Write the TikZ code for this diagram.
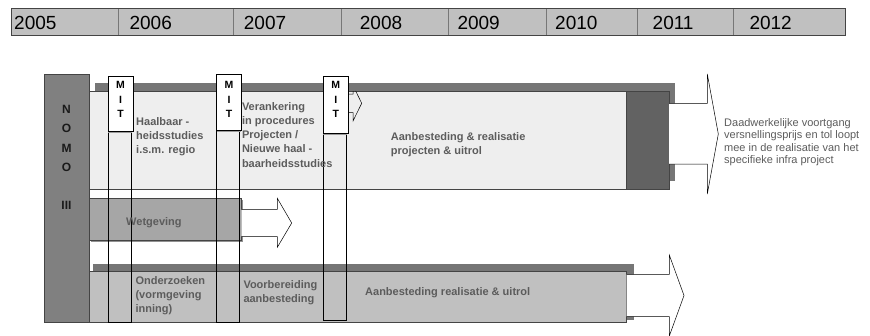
\documentclass[tikz,border=0pt]{standalone}
\usepackage{fontspec}
\setmainfont{Liberation Sans}
\definecolor{barfill}{HTML}{C0C0C0}
\definecolor{darkedge}{HTML}{444444}
\definecolor{sepgray}{HTML}{777777}
\definecolor{nomofill}{HTML}{808080}
\definecolor{nomotxt}{HTML}{1A1A1A}
\definecolor{shadowgray}{HTML}{767676}
\definecolor{rowlight}{HTML}{EEEEEE}
\definecolor{darkend}{HTML}{626262}
\definecolor{wetfill}{HTML}{A6A6A6}
\definecolor{mitline}{HTML}{9A9A9A}
\definecolor{txtgray}{HTML}{5C5C5C}
\tikzset{
  year/.style={anchor=base west, inner sep=0pt, font=\fontsize{19}{22}\selectfont},
  % multi-line labels are placed at the baseline of their last line
  lbl/.style={anchor=base west, inner sep=0pt, align=left, text=txtgray,
    font=\fontsize{11}{14.3}\selectfont\bfseries},
  note/.style={anchor=base west, inner sep=0pt, align=left, text=txtgray,
    font=\fontsize{11}{12.3}\selectfont},
  mittext/.style={anchor=base, inner sep=0pt, align=center,
    font=\fontsize{10.5}{14.5}\selectfont\bfseries},
  nomotext/.style={anchor=base, inner sep=0pt, align=center, text=nomotxt,
    font=\fontsize{12}{19.2}\selectfont\bfseries},
  boxline/.style={draw=darkedge, line width=0.6pt},
  blockarrow/.style={draw=black, fill=white, line width=0.5pt, line join=miter},
}
\begin{document}
\begin{tikzpicture}[x=1pt, y=-1pt]
\useasboundingbox (0,0) rectangle (870,335);

% time line
\draw[fill=barfill, draw=darkedge, line width=0.7pt] (11.7,8.3) rectangle (845,35);
\foreach \s in {118.3,233,341,448,546.6,637.5,733.3}
    \draw[sepgray, line width=0.8pt] (\s,8.8) -- (\s,34.5);
\foreach \yr/\x in {2005/14,2006/129.4,2007/243.7,2008/359.7,2009/457.3,2010/555,2011/652.5,2012/749.3}
    \node[year] (y\yr) at (\x,29.3) {\yr};

% NOMO column
\draw[boxline, fill=nomofill] (44,74) rectangle (89,322);
\node[nomotext] (nomo) at (66.5,209.6) {N\\O\\M\\O\\[19.2pt]III};

% row 1
\fill[shadowgray] (95,83) rectangle (675,181);
\draw[boxline, fill=rowlight] (89,91) rectangle (669,189.5);
\draw[boxline, fill=darkend] (626,91) rectangle (669,189.5);
\draw[blockarrow, fill=none] (348,94) -- (353,94) -- (353,91)
    (355.7,91) -- (361.7,103.3) -- (353,121) -- (353,112.7) -- (348,112.7);
\draw[blockarrow] (669,103.3) -- (707.3,103.3) -- (707.3,74) -- (718.3,134)
    -- (707.3,194) -- (707.3,164) -- (669,164);

% Wetgeving
\fill[shadowgray!80] (90.8,199.8) rectangle (242.8,241.5);
\draw[boxline, fill=wetfill] (89.3,198.3) rectangle (241.3,240);
\draw[blockarrow] (241.3,209.3) -- (277.3,209.3) -- (277.3,198.3) -- (291.7,223)
    -- (277.3,247.3) -- (277.3,236.7) -- (241.3,236.7);

% row 3
\fill[shadowgray] (93.3,264) rectangle (634,320);
\draw[boxline, fill=barfill] (89,271.7) rectangle (626.7,322);
\draw[blockarrow] (626.7,274.3) -- (669.3,274.3) -- (669.3,255) -- (684,295.5)
    -- (669.3,336) -- (669.3,316.7) -- (626.7,316.7);

% MIT moments
\foreach \n/\x/\t/\b/\e in {1/108/76.7/131/322,2/216.5/74.7/130/322,3/323.3/76.7/133/320.7}{
    \draw[black, line width=0.5pt] (\x,\b) rectangle (\x+23,\e);
    \draw[mitline, line width=1.2pt] (\x,\b+1.6) -- (\x+24,\b+1.6);
    \draw[black, fill=white, line width=0.5pt] (\x,\t) rectangle (\x+25,\b);
    \node[mittext] (mit\n) at (\x+12.5,117.5) {M\\I\\T};
}

% labels
\node[lbl] (haalbaar) at (136,153.6) {Haalbaar -\\heidsstudies\\i.s.m. regio};
\node[lbl] (verankering) at (241.8,167.2) {Verankering\\in procedures\\Projecten /\\Nieuwe haal -\\baarheidsstudies};
\node[lbl] (uitrol1) at (390.7,154.6) {Aanbesteding \& realisatie\\projecten \& uitrol};
\node[lbl] (wetgeving) at (126,225.7) {Wetgeving};
\node[lbl] (onderzoek) at (135.3,312.6) {Onderzoeken\\(vormgeving\\inning)};
\node[lbl] (voorbereiding) at (243.3,302.3) {Voorbereiding\\aanbesteding};
\node[lbl] (uitrol2) at (365,295.7) {Aanbesteding realisatie \& uitrol};
\node[note] (voortgang) at (724,163.4) {Daadwerkelijke voortgang\\versnellingsprijs en tol loopt\\mee in de realisatie van het\\specifieke infra project};
\end{tikzpicture}
\end{document}
